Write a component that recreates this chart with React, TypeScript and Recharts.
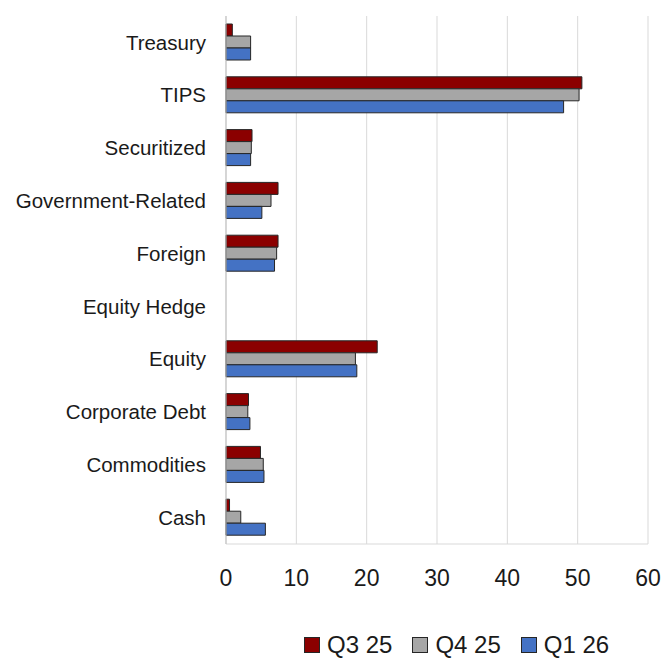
import React from 'react';
import { BarChart, Bar, XAxis, YAxis, CartesianGrid, Legend } from 'recharts';

// allocation by sector
const CATEGORIES = [
  'Treasury',
  'TIPS',
  'Securitized',
  'Government-Related',
  'Foreign',
  'Equity Hedge',
  'Equity',
  'Corporate Debt',
  'Commodities',
  'Cash',
];
const Q3_25 = [0.9, 50.6, 3.7, 7.4, 7.4, 0, 21.5, 3.2, 4.9, 0.5];
const Q4_25 = [3.5, 50.2, 3.6, 6.4, 7.2, 0, 18.4, 3.1, 5.3, 2.1];
const Q1_26 = [3.5, 48.0, 3.5, 5.1, 6.9, 0, 18.6, 3.4, 5.4, 5.6];
const X_TICKS = [0, 10, 20, 30, 40, 50, 60];

const SERIES = [
  { key: 'q3', name: 'Q3 25', color: '#8B0000' },
  { key: 'q4', name: 'Q4 25', color: '#A6A6A6' },
  { key: 'q1', name: 'Q1 26', color: '#4472C4' },
];

const data = CATEGORIES.map((name, i) => ({
  name,
  q3: Q3_25[i],
  q4: Q4_25[i],
  q1: Q1_26[i],
}));

const FONT = '"Liberation Sans", Arial, sans-serif';
const TEXT = '#1a1a1a';

const renderLegend = () => (
  <div style={{ display: 'flex', alignItems: 'center', fontFamily: FONT, fontSize: 24, lineHeight: '24px', color: TEXT }}>
    {SERIES.map((s) => (
      <div key={s.key} style={{ display: 'flex', alignItems: 'center', marginRight: 20 }}>
        <span
          style={{
            display: 'inline-block',
            width: 14,
            height: 14,
            background: s.color,
            border: '1px solid #262626',
            marginRight: 7,
          }}
        />
        <span>{s.name}</span>
      </div>
    ))}
  </div>
);

const App: React.FC = () => {
  return (
    <div style={{ position: 'absolute', left: 0, top: 0, width: 663, height: 659, background: '#fff' }}>
      <BarChart
        width={663}
        height={659}
        data={data}
        layout="vertical"
        margin={{ top: 16, right: 15, bottom: 55, left: 0 }}
        barCategoryGap={8}
        barGap={0}
      >
        <CartesianGrid horizontal={false} stroke="#d9d9d9" />
        <XAxis
          type="number"
          domain={[0, 60]}
          ticks={X_TICKS}
          interval={0}
          height={60}
          tickLine={false}
          tickSize={0}
          tickMargin={26}
          axisLine={{ stroke: '#d9d9d9' }}
          tick={{ fill: TEXT, fontSize: 23, fontFamily: FONT }}
        />
        <YAxis
          type="category"
          dataKey="name"
          width={226}
          interval={0}
          tickLine={false}
          tickSize={0}
          tickMargin={20}
          axisLine={{ stroke: '#bfbfbf' }}
          tick={{ fill: TEXT, fontSize: 20.5, fontFamily: FONT }}
        />
        <Legend
          layout="horizontal"
          verticalAlign="middle"
          align="center"
          content={renderLegend}
          wrapperStyle={{ top: 633, left: 304, width: 359, height: 24 }}
        />
        {SERIES.map((s) => (
          <Bar
            key={s.key}
            dataKey={s.key}
            name={s.name}
            fill={s.color}
            stroke="#262626"
            strokeWidth={1}
            isAnimationActive={false}
          />
        ))}
      </BarChart>
    </div>
  );
};

export default App;
